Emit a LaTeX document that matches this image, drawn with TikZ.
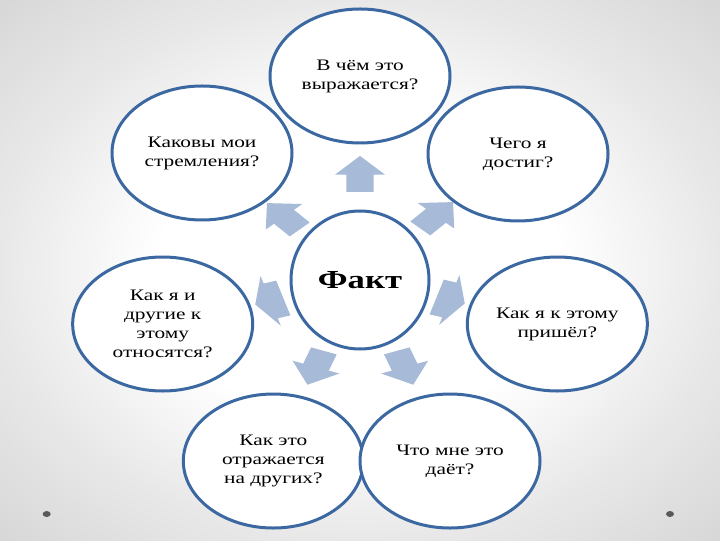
\documentclass[tikz,border=0pt]{standalone}
\usepackage{fontspec}
\setmainfont{Liberation Serif}
\usetikzlibrary{shapes.geometric, shapes.arrows}
\definecolor{ringblue}{RGB}{60,104,162}
\definecolor{arrowblue}{RGB}{167,186,216}
\pgfdeclareradialshading{slidebg}{\pgfpoint{0bp}{0bp}}{color(0bp)=(white); color(14bp)=(white); color(25bp)=(black!9); color(36bp)=(black!16); color(50bp)=(black!16)}

\begin{document}
\begin{tikzpicture}[
x=1pt, y=1pt, xscale=1.3333,% the slide is stretched sideways
   every node/.style = {transform shape},
   ring/.style = {ellipse, draw=ringblue, line width=3pt, fill=white,
                  minimum width=135pt, minimum height=134pt, inner sep=0pt,
                  align=center, font=\fontsize{16}{19}\selectfont},
   blockarrow/.style = {single arrow, fill=arrowblue, draw=none,
                  minimum height=36pt, minimum width=37pt, inner sep=10pt,
                  single arrow head extend=8.5pt},
   sidearrow/.style = {blockarrow, minimum height=22pt, minimum width=52pt,
                  inner xsep=0pt, inner ysep=16pt, single arrow head extend=7pt,
                  single arrow tip angle=130}
                        ]
\useasboundingbox (0,0) rectangle (540,540);
\shade[shading=slidebg] (0,0) rectangle (540,540);
% centre
\node (fact) [ring, minimum width=103.5pt, minimum height=138pt,
              font=\fontsize{26}{30}\bfseries] at (270,260) {Факт};
% questions round it
\node (top) [ring] at (270,464)   {В чём это\\выражается?};
\node (ul)  [ring] at (151.5,387) {Каковы мои\\стремления?};
\node (ur)  [ring] at (388.5,386) {Чего я\\достиг?};
\node (ml)  [ring] at (122,216)   {Как я и\\другие к\\этому\\относятся?};
\node (mr)  [ring] at (418,216)   {Как я к этому\\пришёл?};
\node (bl)  [ring] at (205,79)    {Как это\\отражается\\на других?};
\node (br)  [ring] at (337.5,79)  {Что мне это\\даёт?};
% arrows from the centre
\node (a1) [blockarrow, rotate=90]  at (270,361) {};
\node (a2) [blockarrow, rotate=133] at (216,320) {};
\node (a3) [blockarrow, rotate=47]  at (324,321) {};
\node (a4) [sidearrow, rotate=197]  at (206,240) {};
\node (a5) [sidearrow, rotate=-17]  at (334,241) {};
\node (a6) [blockarrow, rotate=250] at (238.5,177) {};
\node (a7) [blockarrow, rotate=-70] at (302,177) {};
% slide dots
\fill[black!65] (35,26) circle (3pt);
\fill[black!65] (502.5,26) circle (3pt);
\end{tikzpicture}
\end{document}
